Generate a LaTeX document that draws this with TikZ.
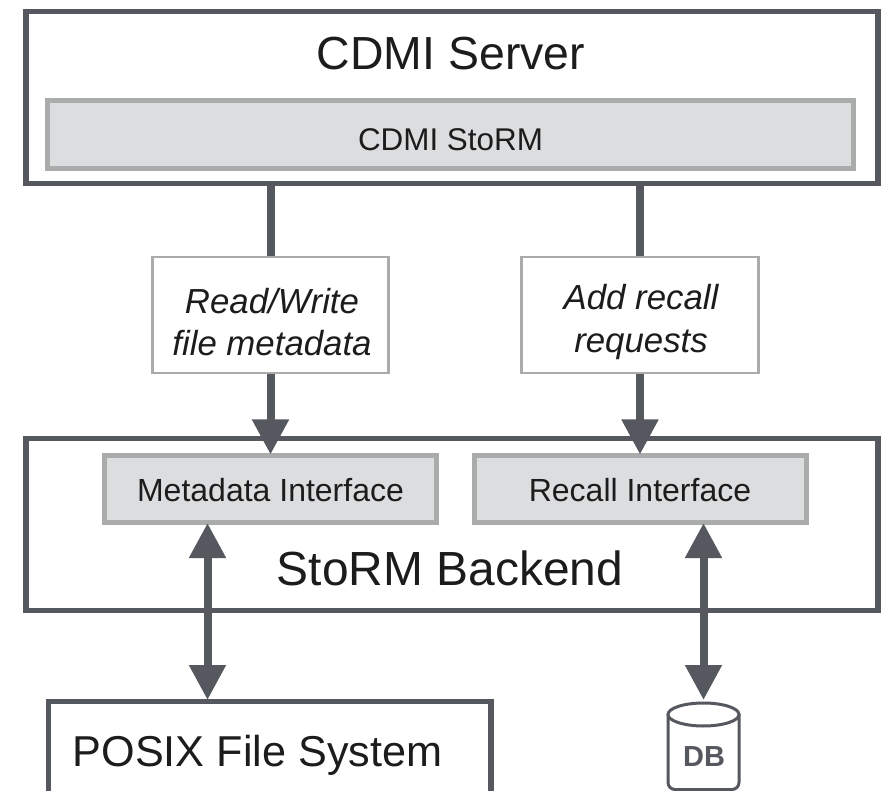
\documentclass[tikz,border=0pt]{standalone}
\usepackage{fontspec}
\setmainfont{Liberation Sans}
\usetikzlibrary{arrows.meta}
\definecolor{darkline}{HTML}{55595F}
\definecolor{softline}{HTML}{A9ACAB}
\definecolor{softfill}{HTML}{DCDDDF}
\definecolor{ink}{HTML}{1C1C1C}
\newcommand{\fs}[1]{\fontsize{#1}{#1}\selectfont}
\tikzset{
  x=1pt,y=-1pt,
  bigbox/.style={draw=darkline,line width=5.5pt,fill=white,inner sep=0pt},
  ifacebox/.style={draw=softline,line width=5pt,fill=softfill,inner sep=0pt,text=ink},
  notebox/.style={draw=softline,line width=2.5pt,fill=white,inner sep=0pt},
  notetext/.style={text=ink,inner sep=0pt,align=center,font=\fontsize{34.8}{42.5}\selectfont\itshape},
  title/.style={anchor=base,text=ink,inner sep=0pt},
  pipe/.style={draw=darkline,line width=8pt},
  arrowline/.style={draw=darkline,line width=8pt,shorten >=-1.5pt,-{Triangle[width=35pt,length=35pt]}},
  bothline/.style={draw=darkline,line width=8pt,{Triangle[width=35pt,length=35pt]}-{Triangle[width=35pt,length=35pt]}},
  dbline/.style={draw=darkline,line width=3pt,fill=white},
}
\begin{document}
\begin{tikzpicture}
\useasboundingbox (0,0) rectangle (889,791);
% big boxes
\node[bigbox,minimum width=852pt,minimum height=172pt] (cdmi) at (452,97.5) {};
\node[title,font=\fs{46.4}] (cdmititle) at (451,70) {CDMI Server};
\node[ifacebox,minimum width=806pt,minimum height=68pt,font=\fs{31.4},text height=33pt,text depth=0pt] (cdmistorm) at (450.5,134.5) {CDMI StoRM};
\node[bigbox,minimum width=852pt,minimum height=172pt] (backend) at (452,524.5) {};
\node[title,font=\fs{47.9}] (backendtitle) at (450,585.7) {StoRM Backend};
\node[ifacebox,minimum width=332pt,minimum height=67pt,font=\fs{32},text height=25pt,text depth=0pt] (meta) at (270.5,489) {Metadata Interface};
\node[ifacebox,minimum width=332pt,minimum height=67pt,font=\fs{32},text height=25pt,text depth=0pt] (recall) at (640,489) {Recall Interface};
% labels
\node[notebox,minimum width=236pt,minimum height=116pt] (rw) at (270.5,315) {};
\node[notetext] (rwtext) at (272,322) {Read/Write\\file metadata};
\node[notebox,minimum width=237pt,minimum height=116pt] (add) at (640,315) {};
\node[notetext] (addtext) at (641,322) {Add recall\\requests};
% POSIX
\draw[darkline,line width=5.5pt] (48.5,791) |- (491,701.5) -- (491,791);
\node[title,font=\fs{43.2}] (posix) at (257.5,766) {POSIX File System};
\coordinate (posixtop) at (207.5,700);
% DB
\draw[dbline,rounded corners=7pt] (668,714) -- (668,789.5) -- (739,789.5) -- (739,714);
\draw[dbline] (703.5,714.5) ellipse [x radius=35.5pt,y radius=11.5pt];
\node[title,font=\fs{29}\bfseries,text=darkline] (db) at (704,766) {DB};
\coordinate (dbtop) at (703.5,700);
% connectors
\draw[pipe] (rw.north |- cdmi.south) -- (rw.north);
\draw[pipe] (add.north |- cdmi.south) -- (add.north);
\draw[arrowline] (rw.south) -- (meta.north);
\draw[arrowline] (add.south) -- (recall.north);
\coordinate (metaport) at (207.5,523);
\coordinate (recallport) at (703.5,523);
\draw[bothline] (metaport) -- (posixtop);
\draw[bothline] (recallport) -- (dbtop);
\end{tikzpicture}
\end{document}
